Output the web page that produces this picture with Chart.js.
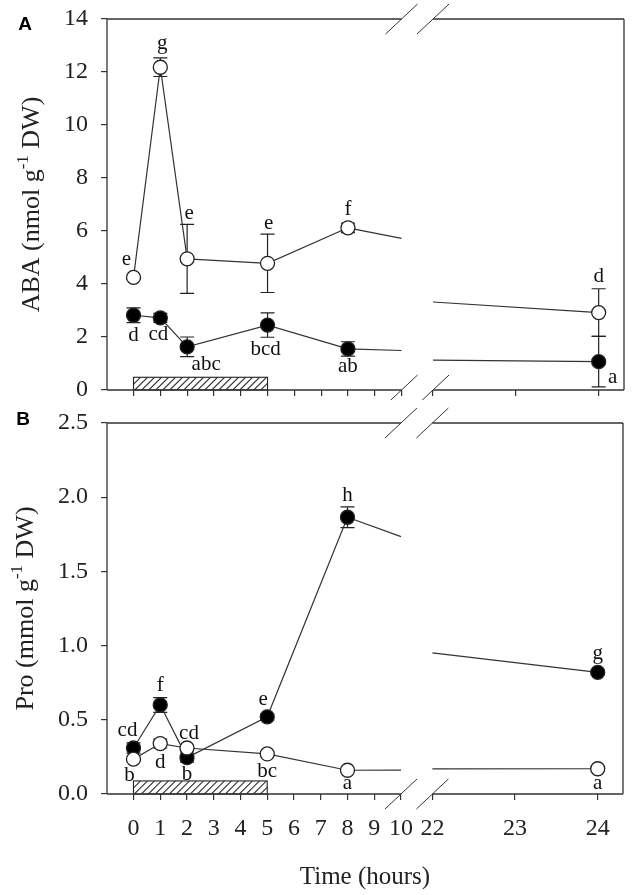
<!DOCTYPE html>
<html lang="en">
<head>
<meta charset="utf-8">
<script src="https://cdn.jsdelivr.net/npm/chart.js@4.4.1/dist/chart.umd.min.js"></script>
<style>
    html, body { margin: 0; padding: 0; background: #fff; }
    .page { width: 635px; height: 895px; }
    canvas { display: block; }
</style>
</head>
<body>
<div class="page">
    <canvas id="abaChart" width="635" height="400"></canvas>
    <canvas id="proChart" width="635" height="495"></canvas>
</div>
<script>
// sampling times (h) and ticks of the broken time axis
const hours = [0, 1, 2, 5, 8, 24];
const timeTicks = [0, 1, 2, 3, 4, 5, 6, 7, 8, 9, 10, 22, 23, 24];
const treatHours = [0, 5];

// ABA (nmol g-1 DW)
const abaOpen = [4.25, 12.18, 4.95, 4.78, 6.12, 2.92];
const abaOpenErr = [0.08, 0.35, 1.3, 1.1, 0.18, 0.9];
const abaFilled = [2.82, 2.72, 1.63, 2.45, 1.55, 1.07];
const abaFilledErr = [0.28, 0.17, 0.37, 0.46, 0.27, 0.95];
const abaOpenLetters = ['e', 'g', 'e', 'e', 'f', 'd'];
const abaFilledLetters = ['d', 'cd', 'abc', 'bcd', 'ab', 'a'];
const abaTicks = [0, 2, 4, 6, 8, 10, 12, 14];

// Pro (mmol g-1 DW)
const proOpen = [0.235, 0.34, 0.31, 0.27, 0.16, 0.17];
const proOpenErr = [0.01, 0.03, 0.01, 0.01, 0.01, 0.01];
const proFilled = [0.31, 0.60, 0.245, 0.52, 1.865, 0.82];
const proFilledErr = [0.035, 0.05, 0.03, 0.02, 0.07, 0.015];
const proOpenLetters = ['b', 'd', 'cd', 'bc', 'a', 'a'];
const proFilledLetters = ['cd', 'f', 'b', 'e', 'h', 'g'];
const proTicks = [0, 0.5, 1.0, 1.5, 2.0, 2.5];

// hours -> position on the cut axis (10..22 h removed, 22..24 h stretched)
const CUT_POS = 11.175, LATE_STRETCH = 3.09;
function axisPos(h) { return h <= 10 ? h : CUT_POS + (h - 22) * LATE_STRETCH; }

// label offsets in px from the marker (dx, dy)
const offA = {
    open: [[-7, -18], [2, -24], [2, -45], [1, -40], [0, -18], [0, -36]],
    filled: [[0, 20], [-2, 17], [19, 18], [-2, 24], [0, 18], [14, 16]]
};
const offB = {
    open: [[-4, 16], [0, 19], [2, -15], [0, 18], [0, 13], [0, 15]],
    filled: [[-6, -18], [0, -19], [0, 17], [-4, -17], [0, -22], [0, -19]]
};

const SERIF = '"Liberation Serif", "Times New Roman", serif';
const INK = '#222';

const breakPlot = {
    id: 'breakPlot',
    beforeDatasetsDraw(chart, args, o) {
        const { ctx, scales: { x, y } } = chart;
        // hatched treatment bar
        const x0 = x.getPixelForValue(axisPos(treatHours[0]));
        const x1 = x.getPixelForValue(axisPos(treatHours[1]));
        const yb = y.getPixelForValue(0), yt = y.getPixelForValue(o.barTop);
        const h = yb - yt;
        ctx.save();
        ctx.beginPath();
        ctx.rect(x0, yt, x1 - x0, h);
        ctx.clip();
        ctx.strokeStyle = '#333';
        ctx.lineWidth = 1.1;
        ctx.beginPath();
        for (let s = x0 - h; s < x1 + 8; s += 7) {
            ctx.moveTo(s, yb);
            ctx.lineTo(s + h, yt);
        }
        ctx.stroke();
        ctx.restore();
        ctx.save();
        ctx.strokeStyle = INK;
        ctx.lineWidth = 1.1;
        ctx.strokeRect(x0, yt, x1 - x0, h);

        chart.data.datasets.forEach(ds => {
            const v = ds.values, n = v.length;
            // 8 h -> 24 h line, drawn only outside the cut
            const at = t => v[n - 2] + (v[n - 1] - v[n - 2]) * (t - hours[n - 2]) / (hours[n - 1] - hours[n - 2]);
            const px = t => x.getPixelForValue(axisPos(t));
            const py = t => y.getPixelForValue(at(t));
            ctx.strokeStyle = '#333';
            ctx.lineWidth = 1.2;
            ctx.beginPath();
            ctx.moveTo(px(8), py(8)); ctx.lineTo(px(10), py(10));
            ctx.moveTo(px(22), py(22)); ctx.lineTo(px(24), py(24));
            ctx.stroke();
            // error bars
            ctx.strokeStyle = INK;
            ctx.lineWidth = 1.2;
            ctx.beginPath();
            v.forEach((val, i) => {
                const cx = x.getPixelForValue(axisPos(hours[i]));
                const t = y.getPixelForValue(val + ds.errs[i]);
                const b = y.getPixelForValue(val - ds.errs[i]);
                ctx.moveTo(cx, t); ctx.lineTo(cx, b);
                ctx.moveTo(cx - 7, t); ctx.lineTo(cx + 7, t);
                ctx.moveTo(cx - 7, b); ctx.lineTo(cx + 7, b);
            });
            ctx.stroke();
        });
        ctx.restore();
    },
    afterDatasetsDraw(chart) {
        const { ctx, scales: { x, y } } = chart;
        ctx.save();
        ctx.font = '21px ' + SERIF;
        ctx.fillStyle = '#111';
        ctx.textAlign = 'center';
        ctx.textBaseline = 'middle';
        chart.data.datasets.forEach(ds => {
            ds.values.forEach((val, i) => {
                const cx = x.getPixelForValue(axisPos(hours[i]));
                const cy = y.getPixelForValue(val);
                ctx.fillText(ds.letters[i], cx + ds.offsets[i][0], cy + ds.offsets[i][1]);
            });
        });
        ctx.restore();
    },
    afterDraw(chart, args, o) {
        const { ctx, chartArea: a, scales: { x } } = chart;
        const b0 = x.getPixelForValue(axisPos(10)), b1 = x.getPixelForValue(axisPos(22));
        ctx.save();
        ctx.strokeStyle = '#333';
        ctx.lineWidth = 1.3;
        ctx.beginPath();
        ctx.moveTo(a.left, a.top); ctx.lineTo(a.left, a.bottom);
        ctx.moveTo(a.right, a.top); ctx.lineTo(a.right, a.bottom);
        [a.top, a.bottom].forEach(yy => {
            ctx.moveTo(a.left, yy); ctx.lineTo(b0, yy);
            ctx.moveTo(b1, yy); ctx.lineTo(a.right, yy);
        });
        ctx.stroke();
        // break marks //
        ctx.lineWidth = 1;
        ctx.beginPath();
        [a.top, a.bottom].forEach(yy => [b0, b1].forEach(xx => {
            ctx.moveTo(xx - 16, yy + 15); ctx.lineTo(xx + 16, yy - 15);
        }));
        ctx.stroke();

        // y title with superscript
        ctx.fillStyle = INK;
        ctx.textBaseline = 'alphabetic';
        ctx.textAlign = 'left';
        const big = '26px ' + SERIF, small = '17px ' + SERIF;
        let total = 0;
        o.yTitle.forEach(([txt, sup]) => { ctx.font = sup ? small : big; total += ctx.measureText(txt).width; });
        ctx.save();
        ctx.translate(o.yTitleX, (a.top + a.bottom) / 2);
        ctx.rotate(-Math.PI / 2);
        let cx = -total / 2;
        o.yTitle.forEach(([txt, sup]) => {
            ctx.font = sup ? small : big;
            ctx.fillText(txt, cx, sup ? -11 : 0);
            cx += ctx.measureText(txt).width;
        });
        ctx.restore();

        if (o.xTitle) {
            ctx.font = '25px ' + SERIF;
            ctx.textAlign = 'center';
            ctx.textBaseline = 'middle';
            ctx.fillText(o.xTitle, (a.left + a.right) / 2, o.xTitleY);
        }
        // panel letter
        ctx.font = 'bold 19px "Liberation Sans", Arial, sans-serif';
        ctx.textAlign = 'center';
        ctx.textBaseline = 'middle';
        ctx.fillStyle = '#000';
        ctx.fillText(o.panel[0], o.panel[1], o.panel[2]);
        ctx.restore();
    }
};

function series(vals, errs, letters, offsets, fill) {
    return {
        data: hours.map((h, i) => ({ x: axisPos(h), y: vals[i] })),
        values: vals, errs: errs, letters: letters, offsets: offsets,
        borderColor: '#333',
        borderWidth: 1.2,
        pointRadius: 7,
        pointBorderWidth: 1.3,
        pointBorderColor: INK,
        pointBackgroundColor: fill,
        segment: { borderColor: c => c.p1DataIndex === hours.length - 1 ? 'rgba(0,0,0,0)' : '#333' }
    };
}

function noOverflow(s) {
    s.paddingTop = 0; s.paddingBottom = 0; s.paddingLeft = 0; s.paddingRight = 0;
}

function makeChart(id, cfg) {
    return new Chart(document.getElementById(id), {
        type: 'line',
        data: { datasets: cfg.datasets },
        plugins: [breakPlot],
        options: {
            responsive: false,
            animation: false,
            layout: { padding: { top: cfg.top, right: cfg.right, left: 0, bottom: 0 } },
            plugins: { legend: { display: false }, tooltip: { enabled: false }, breakPlot: cfg.deco },
            scales: {
                x: {
                    type: 'linear',
                    min: -0.99, max: 18.3,
                    afterBuildTicks: s => { s.ticks = timeTicks.map(h => ({ value: axisPos(h) })); },
                    afterFit: s => { s.height = cfg.xHeight; noOverflow(s); },
                    border: { display: false },
                    grid: { drawOnChartArea: false, drawTicks: true, tickLength: 6, color: '#333', lineWidth: 1.2 },
                    ticks: {
                        display: cfg.xLabels,
                        autoSkip: false, maxRotation: 0, minRotation: 0, padding: 14,
                        color: INK, font: { family: SERIF, size: 24 },
                        callback: (v, i) => String(timeTicks[i])
                    }
                },
                y: {
                    min: cfg.yTicks[0], max: cfg.yTicks[cfg.yTicks.length - 1],
                    afterBuildTicks: s => { s.ticks = cfg.yTicks.map(v => ({ value: v })); },
                    afterFit: s => { s.width = 107; noOverflow(s); },
                    border: { display: false },
                    grid: { drawOnChartArea: false, drawTicks: true, tickLength: 6, color: '#333', lineWidth: 1.2 },
                    ticks: {
                        padding: 13, color: INK, font: { family: SERIF, size: 24 },
                        callback: cfg.yFmt
                    }
                }
            }
        }
    });
}

makeChart('abaChart', {
    top: 19, right: 11, xHeight: 10, xLabels: false, yTicks: abaTicks,
    yFmt: v => String(v),
    datasets: [
        series(abaOpen, abaOpenErr, abaOpenLetters, offA.open, '#fff'),
        series(abaFilled, abaFilledErr, abaFilledLetters, offA.filled, '#000')
    ],
    deco: { barTop: 0.48, panel: ['A', 25, 25], yTitle: [['ABA (nmol g', 0], ['-1', 1], [' DW)', 0]], yTitleX: 39 }
});

makeChart('proChart', {
    top: 23, right: 12, xHeight: 101, xLabels: true, yTicks: proTicks,
    yFmt: v => v.toFixed(1),
    datasets: [
        series(proOpen, proOpenErr, proOpenLetters, offB.open, '#fff'),
        series(proFilled, proFilledErr, proFilledLetters, offB.filled, '#000')
    ],
    deco: { barTop: 0.088, panel: ['B', 23, 20], yTitle: [['Pro (mmol g', 0], ['-1', 1], [' DW)', 0]], yTitleX: 33,
            xTitle: 'Time (hours)', xTitleY: 477 }
});
</script>
</body>
</html>
